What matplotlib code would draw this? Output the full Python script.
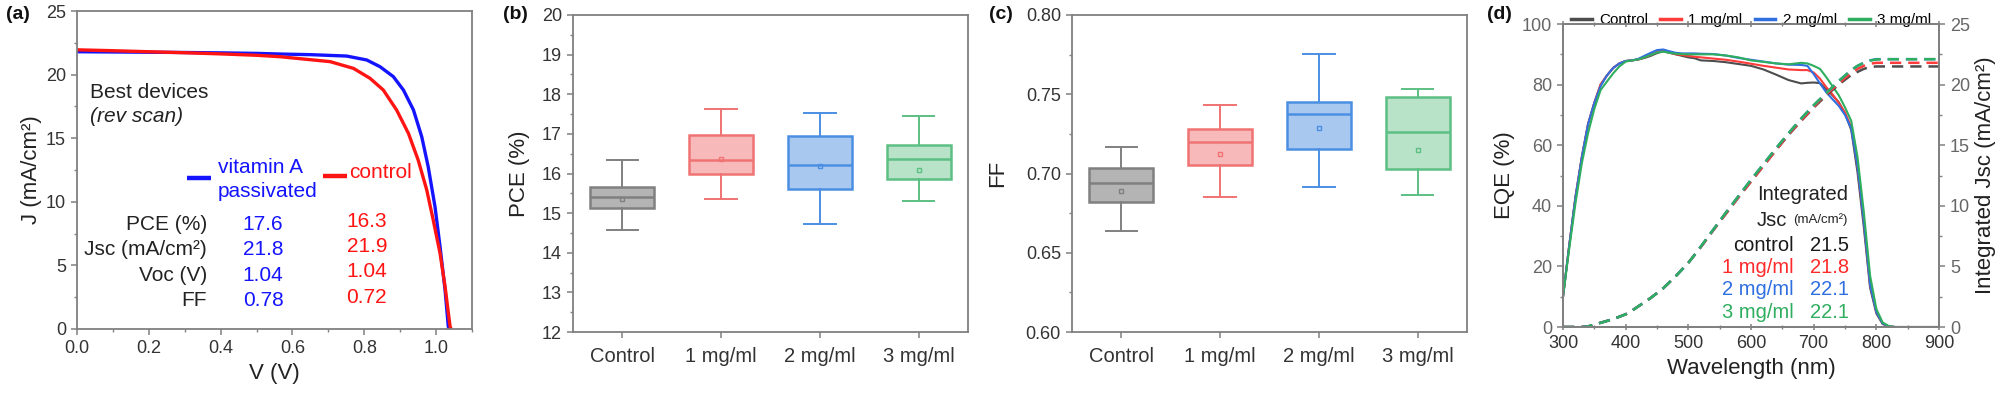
import matplotlib
matplotlib.use("Agg")
import matplotlib.pyplot as plt
import numpy as np
from matplotlib.ticker import MultipleLocator

plt.rcParams["font.family"] = ["Liberation Sans", "DejaVu Sans"]

# ---- (a) J-V curves of the best devices ----
v_va = [0.0, 0.1, 0.2, 0.3, 0.4, 0.5, 0.565, 0.65, 0.751, 0.807, 0.844, 0.881, 0.909,
        0.937, 0.960, 0.978, 0.997, 1.011, 1.025, 1.034, 1.037]
j_va = [21.80, 21.78, 21.76, 21.74, 21.71, 21.67, 21.62, 21.57, 21.46, 21.15, 20.62, 19.84,
        18.79, 17.22, 15.12, 12.76, 9.61, 6.47, 3.07, 0.18, 0.0]
v_ctrl = [0.0, 0.1, 0.2, 0.3, 0.4, 0.5, 0.565, 0.705, 0.770, 0.816, 0.853, 0.890, 0.923,
          0.950, 0.974, 0.992, 1.011, 1.025, 1.039, 1.042]
j_ctrl = [21.95, 21.88, 21.80, 21.72, 21.63, 21.52, 21.41, 21.02, 20.49, 19.71, 18.79, 17.22,
          15.38, 13.29, 10.93, 8.57, 5.95, 3.33, 0.18, 0.0]
param_names = ["PCE (%)", "Jsc (mA/cm²)", "Voc (V)", "FF"]
param_va = ["17.6", "21.8", "1.04", "0.78"]
param_ctrl = ["16.3", "21.9", "1.04", "0.72"]

# ---- (b), (c) box statistics ----
groups = ["Control", "1 mg/ml", "2 mg/ml", "3 mg/ml"]
pce_lo = [14.58, 15.37, 14.74, 15.31]
pce_q1 = [15.12, 16.00, 15.60, 15.87]
pce_med = [15.41, 16.33, 16.21, 16.37]
pce_q3 = [15.67, 16.98, 16.94, 16.71]
pce_hi = [16.33, 17.62, 17.54, 17.44]
pce_mean = [15.37, 16.37, 16.20, 16.10]
ff_lo = [0.664, 0.685, 0.6915, 0.6867]
ff_q1 = [0.682, 0.7056, 0.7152, 0.7028]
ff_med = [0.694, 0.7196, 0.7377, 0.7265]
ff_q3 = [0.7035, 0.7284, 0.7452, 0.7484]
ff_hi = [0.717, 0.7435, 0.7757, 0.7536]
ff_mean = [0.689, 0.7125, 0.7289, 0.7148]

# ---- (d) EQE and integrated Jsc ----
wl = [300, 310, 320, 330, 340, 350, 360, 370, 380, 390, 400, 410, 420, 430, 440, 450, 460,
      470, 480, 490, 500, 510, 520, 540, 560, 580, 600, 620, 640, 660, 680, 690, 700, 710,
      720, 730, 740, 750, 760, 770, 780, 790, 800, 810, 820, 830, 900]
eqe_ctrl = [10, 27, 43, 56, 67, 74, 80, 83, 85.5, 87, 87.8, 88, 88.3, 88.8, 89.5, 90.4, 91,
            90.5, 90, 89.5, 89, 88.7, 88, 87.8, 87.4, 86.8, 86.2, 85, 83.3, 81.5, 80.4, 80.6,
            80.7, 80.5, 78.5, 76.5, 74.2, 70.5, 65, 51, 33, 13, 4.5, 1, 0.2, 0, 0]
eqe_1 = [10, 27, 43, 56, 67, 74, 80, 83, 85.5, 87, 87.8, 88, 88.3, 89, 89.8, 90.8, 91.2,
         90.6, 90, 89.8, 89.5, 89.2, 89, 88.6, 88.2, 87.6, 86.9, 86.2, 85.6, 85.0, 84.8, 84.8,
         84.0, 82.0, 79.2, 76.8, 74.0, 70.8, 66, 53, 35, 14, 5, 1.2, 0.2, 0, 0]
eqe_2 = [10, 27, 43, 56, 67, 74, 79.5, 83, 85.5, 87, 87.8, 88, 88.5, 89.5, 90.5, 91.4, 91.6,
         91, 90.5, 90.3, 90.3, 90.3, 90.2, 90.1, 89.6, 88.8, 88.2, 87.6, 87.0, 86.6, 86.5,
         86.2, 83.5, 80.4, 77.5, 75.2, 73.0, 70.0, 65.5, 53, 35, 14, 5, 1.2, 0.2, 0, 0]
eqe_3 = [10, 26, 41, 54, 64, 72, 78.2, 81, 83.7, 86, 87.6, 88, 88.3, 89, 89.8, 90.6, 90.9,
         90.5, 90.2, 90.1, 90.0, 90.0, 90.0, 90.0, 89.6, 89.0, 88.0, 87.5, 87.0, 86.7, 87.2,
         87.0, 86.2, 85.2, 82.5, 79.5, 76.5, 72.5, 68, 56, 38, 17, 6, 1.5, 0.3, 0, 0]
jsc_ctrl = [0, 0, 0, 0, 0.05, 0.2, 0.35, 0.5, 0.65, 0.85, 1.05, 1.35, 1.7, 2.05, 2.4, 2.8,
            3.2, 3.7, 4.2, 4.75, 5.3, 5.95, 6.6, 8.0, 9.35, 10.7, 12.0, 13.3, 14.6, 15.85, 17.0,
            17.55, 18.1, 18.6, 19.1, 19.55, 20.0, 20.4, 20.8, 21.05, 21.3, 21.45, 21.5, 21.5,
            21.5, 21.5, 21.5]
jsc_1 = [0, 0, 0, 0, 0.05, 0.2, 0.35, 0.5, 0.65, 0.85, 1.05, 1.35, 1.7, 2.05, 2.4, 2.8,
         3.2, 3.7, 4.2, 4.75, 5.3, 5.95, 6.6, 8.0, 9.35, 10.7, 12.0, 13.3, 14.6, 15.9, 17.05,
         17.6, 18.15, 18.7, 19.2, 19.65, 20.1, 20.55, 20.95, 21.3, 21.55, 21.72, 21.8, 21.8,
         21.8, 21.8, 21.8]
jsc_2 = [0, 0, 0, 0, 0.05, 0.2, 0.35, 0.5, 0.65, 0.85, 1.05, 1.35, 1.7, 2.05, 2.4, 2.8,
         3.2, 3.7, 4.2, 4.75, 5.3, 5.95, 6.65, 8.05, 9.45, 10.8, 12.15, 13.45, 14.75, 16.0,
         17.2, 17.75, 18.3, 18.8, 19.3, 19.8, 20.3, 20.75, 21.2, 21.55, 21.8, 22.0, 22.1,
         22.1, 22.1, 22.1, 22.1]
jsc_3 = [0, 0, 0, 0, 0.05, 0.2, 0.35, 0.5, 0.65, 0.85, 1.05, 1.35, 1.7, 2.05, 2.4, 2.8,
         3.2, 3.7, 4.2, 4.75, 5.3, 5.95, 6.65, 8.05, 9.45, 10.8, 12.15, 13.45, 14.75, 16.0,
         17.2, 17.75, 18.3, 18.8, 19.3, 19.8, 20.3, 20.75, 21.2, 21.55, 21.8, 21.98, 22.08,
         22.1, 22.1, 22.1, 22.1]
jsc_final = ["21.5", "21.8", "22.1", "22.1"]
eqe_labels = ["control", "1 mg/ml", "2 mg/ml", "3 mg/ml"]

edge_cols = ["#808080", "#f07373", "#4b8fe3", "#5cbf83"]
fill_cols = ["#b4b4b4", "#f7b9b9", "#a9c8f0", "#b8e3c8"]
line_cols = ["#4d4d4d", "#ff3b3b", "#2f6fe0", "#2fae5f"]
text_cols = ["#1a1a1a", "#ff2b2b", "#2f6fe0", "#2fae5f"]
spine_col = "#808080"
tick_lbl = "#333333"


def style_axis(ax):
    for sp in ax.spines.values():
        sp.set_color(spine_col)
        sp.set_linewidth(1.3)
    ax.tick_params(which="both", direction="out", colors=spine_col, labelcolor=tick_lbl,
                   labelsize=13)
    ax.tick_params(which="major", length=4.5, width=1.1)
    ax.tick_params(which="minor", length=2.5, width=1.0)


fig = plt.figure(figsize=(20, 3.94), dpi=100)
ax_a = fig.add_axes([0.0385, 0.165, 0.1975, 0.807])
ax_b = fig.add_axes([0.2865, 0.157, 0.1975, 0.805])
ax_c = fig.add_axes([0.536, 0.157, 0.1975, 0.805])
ax_d = fig.add_axes([0.7815, 0.170, 0.188, 0.769])

# (a)
style_axis(ax_a)
ax_a.plot(v_va, j_va, color="#1414ff", lw=2.4, solid_capstyle="butt")
ax_a.plot(v_ctrl, j_ctrl, color="#ff1414", lw=2.4, solid_capstyle="butt")
ax_a.set_xlim(0, 1.1)
ax_a.set_ylim(0, 25)
ax_a.xaxis.set_major_locator(MultipleLocator(0.2))
ax_a.xaxis.set_minor_locator(MultipleLocator(0.1))
ax_a.yaxis.set_major_locator(MultipleLocator(5))
ax_a.yaxis.set_minor_locator(MultipleLocator(2.5))
ax_a.xaxis.set_major_formatter(lambda x, p: f"{x:.1f}")
ax_a.set_xlabel("V (V)", fontsize=16, color="#222222")
ax_a.set_ylabel("J (mA/cm²)", fontsize=16, color="#222222")
ax_a.yaxis.set_label_coords(-0.088, 0.5)
ax_a.text(0.035, 18.6, "Best devices", fontsize=15, color="#222222", va="center")
ax_a.text(0.035, 16.7, "(rev scan)", fontsize=15, color="#222222", va="center",
          style="italic")
ax_a.plot([0.306, 0.373], [11.9, 11.9], color="#1414ff", lw=3.2, solid_capstyle="butt")
ax_a.text(0.393, 12.7, "vitamin A", fontsize=15, color="#1414ff", va="center")
ax_a.text(0.393, 10.8, "passivated", fontsize=15, color="#1414ff", va="center")
ax_a.plot([0.685, 0.752], [12.0, 12.0], color="#ff1414", lw=3.2, solid_capstyle="butt")
ax_a.text(0.758, 12.3, "control", fontsize=15, color="#ff1414", va="center")
for i, name in enumerate(param_names):
    y = 8.2 - i * 1.98
    ax_a.text(0.362, y, name, fontsize=15, color="#222222", ha="right", va="center")
    ax_a.text(0.518, y, param_va[i], fontsize=15, color="#1414ff", ha="center", va="center")
    ax_a.text(0.807, y + 0.25, param_ctrl[i], fontsize=15, color="#ff1414", ha="center",
              va="center")


def draw_boxes(ax, lo, q1, med, q3, hi, mean):
    stats = []
    for i in range(len(groups)):
        stats.append(dict(whislo=lo[i], q1=q1[i], med=med[i], q3=q3[i], whishi=hi[i],
                          mean=mean[i], fliers=[]))
    for i, st in enumerate(stats):
        ax.bxp([st], positions=[i + 1], widths=0.65, capwidths=0.32, showmeans=True,
               patch_artist=True, showfliers=False,
               boxprops=dict(facecolor=fill_cols[i], edgecolor=edge_cols[i], lw=1.8),
               medianprops=dict(color=edge_cols[i], lw=1.8),
               whiskerprops=dict(color=edge_cols[i], lw=1.4),
               capprops=dict(color=edge_cols[i], lw=1.4),
               meanprops=dict(marker="s", markersize=3.5, markerfacecolor="none",
                              markeredgecolor=edge_cols[i], markeredgewidth=1.0))
    ax.set_xlim(0.5, 4.5)
    ax.set_xticks([1, 2, 3, 4])
    ax.set_xticklabels(groups, fontsize=14.5)
    ax.tick_params(axis="x", pad=6)


# (b)
style_axis(ax_b)
draw_boxes(ax_b, pce_lo, pce_q1, pce_med, pce_q3, pce_hi, pce_mean)
ax_b.set_ylim(12, 20)
ax_b.yaxis.set_major_locator(MultipleLocator(1))
ax_b.yaxis.set_minor_locator(MultipleLocator(0.5))
ax_b.set_ylabel("PCE (%)", fontsize=16, color="#222222")
ax_b.yaxis.set_label_coords(-0.109, 0.5)

# (c)
style_axis(ax_c)
draw_boxes(ax_c, ff_lo, ff_q1, ff_med, ff_q3, ff_hi, ff_mean)
ax_c.set_ylim(0.6, 0.8)
ax_c.yaxis.set_major_locator(MultipleLocator(0.05))
ax_c.yaxis.set_minor_locator(MultipleLocator(0.025))
ax_c.yaxis.set_major_formatter(lambda x, p: f"{x:.2f}")
ax_c.set_ylabel("FF", fontsize=16, color="#222222")
ax_c.yaxis.set_label_coords(-0.162, 0.5)

# (d)
style_axis(ax_d)
ax_d2 = ax_d.twinx()
style_axis(ax_d2)
eqe_all = [eqe_ctrl, eqe_1, eqe_2, eqe_3]
jsc_all = [jsc_ctrl, jsc_1, jsc_2, jsc_3]
leg_names = ["Control", "1 mg/ml", "2 mg/ml", "3 mg/ml"]
handles = []
for i in range(4):
    h, = ax_d.plot(wl, eqe_all[i], color=line_cols[i], lw=1.5, label=leg_names[i])
    handles.append(h)
for i in range(4):
    ax_d2.plot(wl, jsc_all[i], color=line_cols[i], lw=1.8, ls=(0, (4.5, 2.8)))
ax_d.set_xlim(300, 900)
ax_d.set_ylim(0, 100)
ax_d2.set_ylim(0, 25)
ax_d.xaxis.set_major_locator(MultipleLocator(100))
ax_d.xaxis.set_minor_locator(MultipleLocator(50))
ax_d.yaxis.set_major_locator(MultipleLocator(20))
ax_d.yaxis.set_minor_locator(MultipleLocator(10))
ax_d2.yaxis.set_major_locator(MultipleLocator(5))
ax_d2.yaxis.set_minor_locator(MultipleLocator(2.5))
ax_d.tick_params(axis="y", labelcolor="#666666")
ax_d2.tick_params(axis="y", labelcolor="#666666")
ax_d.tick_params(axis="x", which="both", top=True)
ax_d.tick_params(axis="x", which="both", direction="inout")
ax_d.set_xlabel("Wavelength (nm)", fontsize=16, color="#222222")
ax_d.set_ylabel("EQE (%)", fontsize=16, color="#222222")
ax_d.yaxis.set_label_coords(-0.128, 0.5)
ax_d2.set_ylabel("Integrated Jsc (mA/cm²)", fontsize=16, color="#222222")
ax_d2.yaxis.set_label_coords(1.096, 0.5)
ax_d.legend(handles=handles, loc="lower center", bbox_to_anchor=(0.5, 0.99), ncol=4,
            frameon=False, fontsize=11, handlelength=1.37, handletextpad=0.46,
            columnspacing=0.8, borderaxespad=0, borderpad=0)
for h in ax_d.get_legend().get_lines():
    h.set_linewidth(2.5)
ax_d.text(609, 43.6, "Integrated", fontsize=14.5, color="#222222", va="center")
ax_d.text(609, 35.3, "Jsc", fontsize=14.5, color="#222222", va="center")
ax_d.text(667, 35.3, "(mA/cm²)", fontsize=9.5, color="#222222", va="center")
for i in range(4):
    y = 27.0 - i * 7.35
    ax_d.text(668, y, eqe_labels[i], fontsize=14.5, color=text_cols[i], ha="right",
              va="center")
    ax_d.text(694, y, jsc_final[i], fontsize=14.5, color=text_cols[i], va="center")

# panel letters
for x, lab in [(0.003, "(a)"), (0.2515, "(b)"), (0.4945, "(c)"), (0.7435, "(d)")]:
    fig.text(x, 0.962, lab, fontsize=14, fontweight="bold", va="center", color="#111111")

fig.savefig("out.png", dpi=100)
